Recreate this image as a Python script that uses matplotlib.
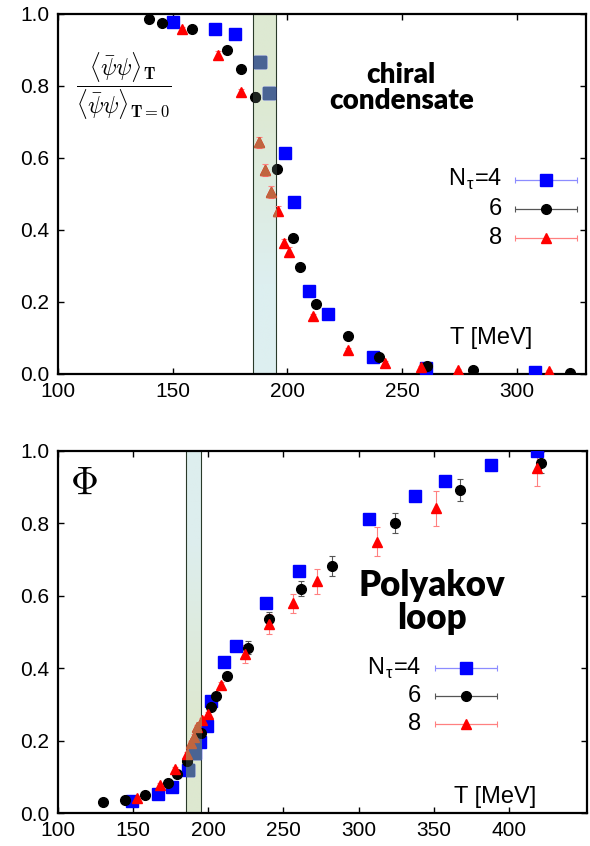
import numpy as np
import matplotlib
matplotlib.use("Agg")
import matplotlib.pyplot as plt
from matplotlib.patches import Rectangle
from matplotlib.colors import to_rgb

plt.rcParams['font.family'] = ['Liberation Sans', 'DejaVu Sans']
plt.rcParams['mathtext.fontset'] = 'cm'

# ---- chiral condensate (top panel) ----
c4_T = [150, 168.4, 177.1, 188, 191.9, 199, 202.7, 209.3, 217.5, 237.3, 260.3, 308]
c4_y = [0.979, 0.958, 0.944, 0.867, 0.781, 0.613, 0.477, 0.231, 0.166, 0.048, 0.016, 0.005]
c6_T = [139.9, 145.2, 158.5, 173.8, 179.9, 186.1, 195.5, 202.5, 205.7, 212.3, 226.2, 239.7, 260.7, 281, 322.9]
c6_y = [0.986, 0.976, 0.958, 0.900, 0.846, 0.769, 0.568, 0.379, 0.298, 0.193, 0.106, 0.047, 0.023, 0.011, 0.002]
c8_T = [154.3, 169.7, 180, 187.8, 190.3, 193, 195.8, 198.3, 200.6, 211, 226.5, 242.3, 258.4, 274.5, 313.8]
c8_y = [0.958, 0.886, 0.783, 0.643, 0.567, 0.505, 0.453, 0.363, 0.339, 0.161, 0.067, 0.031, 0.019, 0.011, 0.008]
c8_err = [0.005, 0.01, 0.008, 0.016, 0.016, 0.016, 0.014, 0.012, 0.014, 0.005, 0.005, 0.004, 0.004, 0.003, 0.003]

# ---- Polyakov loop (bottom panel) ----
p4_T = [149.1, 166.4, 175.8, 186.9, 191.3, 194.7, 198.9, 202.2, 210.2, 218.2, 238.4, 260.7, 307.3, 337.5, 357.5, 388.2, 418.9]
p4_y = [0.034, 0.052, 0.071, 0.119, 0.167, 0.197, 0.240, 0.309, 0.416, 0.461, 0.579, 0.669, 0.811, 0.876, 0.916, 0.960, 1.0]
p4_err = [0.003, 0.003, 0.004, 0.004, 0.005, 0.005, 0.005, 0.006, 0.006, 0.006, 0.008, 0.01, 0.014, 0.013, 0.014, 0.015, 0.015]
p6_T = [130, 144.4, 157.8, 173.5, 179.5, 186.2, 195.3, 202.2, 205.5, 212.5, 226.4, 240.2, 261.8, 282.2, 324.2, 367.5, 421.3]
p6_y = [0.031, 0.036, 0.050, 0.084, 0.107, 0.144, 0.220, 0.292, 0.323, 0.378, 0.457, 0.535, 0.620, 0.682, 0.800, 0.892, 0.968]
p6_err = [0.003, 0.003, 0.004, 0.005, 0.005, 0.006, 0.008, 0.008, 0.008, 0.01, 0.018, 0.02, 0.022, 0.028, 0.028, 0.03, 0.03]
p8_T = [152.7, 167.8, 178, 185.8, 188.5, 190.7, 192.9, 196.2, 199.6, 208.4, 224.4, 240.2, 256.2, 272.7, 312.4, 351.8, 418.4]
p8_y = [0.042, 0.077, 0.122, 0.163, 0.193, 0.211, 0.238, 0.257, 0.273, 0.353, 0.438, 0.521, 0.579, 0.640, 0.749, 0.841, 0.952]
p8_err = [0.004, 0.005, 0.006, 0.006, 0.006, 0.006, 0.006, 0.006, 0.006, 0.008, 0.025, 0.028, 0.027, 0.035, 0.04, 0.047, 0.05]

band = (185, 195)
labels = [r'N$_\mathregular{\tau}$=4', '6', '8']

styles = [
    dict(marker='s', ms=8, color='#0000ff', ecolor='#8c8cff', muted='#4a6494'),
    dict(marker='o', ms=7, color='#000000', ecolor='#555555', muted='#1e2420'),
    dict(marker='^', ms=7, color='#ff0000', ecolor='#ff8080', muted='#c0653f'),
]


def draw_band(ax, top_col, bot_col):
    grad = np.array([[to_rgb(top_col)], [to_rgb(bot_col)]])
    ax.imshow(grad, extent=[band[0], band[1], 0, 1], aspect='auto',
              interpolation='bilinear', zorder=1)
    for x in band:
        ax.axvline(x, color='#2a3a2a', lw=0.8, zorder=1.5)


def draw_series(ax, T, y, err, st):
    ax.errorbar(T, y, yerr=err, fmt=st['marker'], ms=st['ms'], color=st['color'],
                mec=st['color'], ecolor=st['ecolor'], elinewidth=0.8, capsize=2.5,
                capthick=0.8, zorder=3)
    # points seen through the band look muted
    clip = Rectangle((band[0], 0), band[1] - band[0], 1, transform=ax.transData)
    l, = ax.plot(T, y, st['marker'], ms=st['ms'], color=st['muted'], mec=st['muted'], zorder=4)
    l.set_clip_path(clip)


def draw_legend(ax, x_text, x0, x1, ys, fs):
    for st, lab, yy in zip(styles, labels, ys):
        ax.text(x_text, yy, lab, ha='right', va='center', fontsize=fs)
        xm = (x0 + x1) / 2
        ax.errorbar([xm], [yy], xerr=[(x1 - x0) / 2], fmt=st['marker'], ms=st['ms'],
                    color=st['color'], ecolor=st['ecolor'], elinewidth=0.9,
                    capsize=2.5, capthick=0.8, zorder=3)


def style_axes(ax, xlim, xticks, fs):
    ax.set_xlim(*xlim)
    ax.set_ylim(0, 1.0)
    ax.set_xticks(xticks)
    ax.set_yticks(np.arange(0, 1.01, 0.2))
    ax.set_yticklabels(['%.1f' % v for v in np.arange(0, 1.01, 0.2)])
    ax.tick_params(direction='in', top=True, right=True, length=4, width=1,
                   labelsize=fs, pad=6)
    for s in ax.spines.values():
        s.set_linewidth(1.6)


fig = plt.figure(figsize=(5.9, 8.46), dpi=100)

# top panel
ax1 = fig.add_axes([0.098, 0.558, 0.895, 0.4255])
draw_band(ax1, '#dde9d2', '#ddeff0')
draw_series(ax1, c4_T, c4_y, None, styles[0])
draw_series(ax1, c6_T, c6_y, None, styles[1])
draw_series(ax1, c8_T, c8_y, c8_err, styles[2])
style_axes(ax1, (100, 330), [100, 150, 200, 250, 300], 15)
draw_legend(ax1, 293.5, 299, 326, [0.539, 0.458, 0.378], 17)
ax1.text(129, 0.80,
         r'$\dfrac{\langle\bar{\psi}\psi\rangle_{\mathbf{T}}}{\langle\bar{\psi}\psi\rangle_{\mathbf{T=0}}}$',
         ha='center', va='center', fontsize=17)
ax1.text(249.6, 0.795, 'chiral\ncondensate', ha='center', va='center',
         fontsize=20, fontweight='heavy', family=['Lato', 'DejaVu Sans'], linespacing=1.0)
ax1.text(306.5, 0.10, 'T [MeV]', ha='right', va='center', fontsize=17)

# bottom panel
ax2 = fig.add_axes([0.098, 0.039, 0.897, 0.428])
draw_band(ax2, '#ddeeee', '#dde8d0')
draw_series(ax2, p4_T, p4_y, p4_err, styles[0])
draw_series(ax2, p6_T, p6_y, p6_err, styles[1])
draw_series(ax2, p8_T, p8_y, p8_err, styles[2])
style_axes(ax2, (100, 452), [100, 150, 200, 250, 300, 350, 400], 15)
draw_legend(ax2, 341.8, 350.9, 392.2, [0.40, 0.322, 0.246], 17)
ax2.text(117, 0.91, r'$\Phi$', ha='center', va='center', fontsize=28)
ax2.text(348.5, 0.584, 'Polyakov\nloop', ha='center', va='center',
         fontsize=25, fontweight='heavy', family=['Lato', 'DejaVu Sans'], linespacing=1.0)
ax2.text(418.4, 0.045, 'T [MeV]', ha='right', va='center', fontsize=17)

fig.savefig('out.png', dpi=100)
